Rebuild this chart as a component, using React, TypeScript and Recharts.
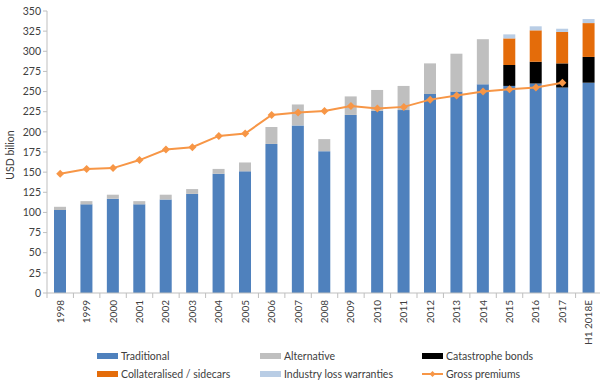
import { ComposedChart, Bar, Line, XAxis, YAxis } from 'recharts';

const years = ['1998', '1999', '2000', '2001', '2002', '2003', '2004', '2005', '2006', '2007', '2008', '2009', '2010', '2011', '2012', '2013', '2014', '2015', '2016', '2017', 'H1 2018E'];
const traditional = [103, 110, 117, 110, 116, 123, 148, 151, 185, 208, 176, 221, 226, 227, 247, 250, 259, 257, 260, 255, 261];
const alternative = [4, 4, 5, 4, 6, 6, 6, 11, 21, 26, 15, 23, 26, 30, 38, 47, 56, 0, 0, 0, 0];
const catBonds = [0, 0, 0, 0, 0, 0, 0, 0, 0, 0, 0, 0, 0, 0, 0, 0, 0, 26, 27, 30, 32];
const collateralised = [0, 0, 0, 0, 0, 0, 0, 0, 0, 0, 0, 0, 0, 0, 0, 0, 0, 33, 39, 39, 42];
const ilw = [0, 0, 0, 0, 0, 0, 0, 0, 0, 0, 0, 0, 0, 0, 0, 0, 0, 5, 5, 4, 5];
const grossPremiums = [148, 154, 155, 165, 178, 181, 195, 198, 221, 224, 226, 232, 229, 231, 240, 245, 250, 253, 255, 261, null];
const yTicks = [0, 25, 50, 75, 100, 125, 150, 175, 200, 225, 250, 275, 300, 325, 350];

const data = years.map((year, i) => ({
  year,
  traditional: traditional[i],
  alternative: alternative[i],
  catBonds: catBonds[i],
  collateralised: collateralised[i],
  ilw: ilw[i],
  grossPremiums: grossPremiums[i],
}));

const FONT = 'Lato, "Open Sans", sans-serif';
const TEXT = '#404040';
const AXIS = '#BFBFBF';
const LINE_ORANGE = '#F79646';

const XTick = (props: any) => {
  const { x, y, payload } = props;
  const half = 13.2;
  return (
    <g>
      <line x1={x - half} y1={y - 8} x2={x - half} y2={y - 3} stroke={AXIS} />
      <text
        x={0}
        y={0}
        transform={`translate(${x},${y - 1}) rotate(-90)`}
        textAnchor="end"
        dy="0.35em"
        fontSize={10}
        fontFamily={FONT}
        fill={TEXT}
      >
        {payload.value}
      </text>
    </g>
  );
};

const Diamond = (props: any) => {
  const { cx, cy } = props;
  if (cx == null || cy == null) return <g />;
  return <polygon points={`${cx},${cy - 4} ${cx + 4},${cy} ${cx},${cy + 4} ${cx - 4},${cy}`} fill={LINE_ORANGE} />;
};

const legendItems = [
  { label: 'Traditional', color: '#4F81BD', left: 97, top: 352 },
  { label: 'Alternative', color: '#BFBFBF', left: 260, top: 352 },
  { label: 'Catastrophe bonds', color: '#000000', left: 422, top: 352 },
  { label: 'Collateralised / sidecars', color: '#E46C0A', left: 97, top: 370 },
  { label: 'Industry loss warranties', color: '#B9CDE5', left: 260, top: 370 },
];

export default function App() {
  return (
    <div style={{ position: 'absolute', left: 0, top: 0, width: 600, height: 383, overflow: 'hidden', background: '#fff' }}>
      <ComposedChart width={610} height={383} data={data} margin={{ top: 11, right: 8, bottom: 30, left: 0 }} barSize={12}>
        <XAxis
          dataKey="year"
          interval={0}
          height={60}
          tick={<XTick />}
          tickLine={false}
          axisLine={{ stroke: AXIS }}
        />
        <YAxis
          width={47}
          domain={[0, 350]}
          ticks={yTicks}
          interval={0}
          tick={{ fontSize: 10.5, fontFamily: FONT, fill: TEXT }}
          tickLine={{ stroke: AXIS }}
          tickSize={4}
          axisLine={{ stroke: AXIS }}
        />
        <Bar dataKey="traditional" stackId="a" fill="#4F81BD" isAnimationActive={false} />
        <Bar dataKey="alternative" stackId="a" fill="#BFBFBF" isAnimationActive={false} />
        <Bar dataKey="catBonds" stackId="a" fill="#000000" isAnimationActive={false} />
        <Bar dataKey="collateralised" stackId="a" fill="#E46C0A" isAnimationActive={false} />
        <Bar dataKey="ilw" stackId="a" fill="#B9CDE5" isAnimationActive={false} />
        <Line
          dataKey="grossPremiums"
          stroke={LINE_ORANGE}
          strokeWidth={2}
          dot={<Diamond />}
          activeDot={false}
          connectNulls={false}
          isAnimationActive={false}
        />
      </ComposedChart>
      <div
        style={{
          position: 'absolute',
          left: 10,
          top: 155,
          transform: 'translate(-50%, -50%) rotate(-90deg)',
          fontFamily: FONT,
          fontSize: 10.5,
          color: TEXT,
          whiteSpace: 'nowrap',
        }}
      >
        USD bilion
      </div>
      {legendItems.map((item) => (
        <div
          key={item.label}
          style={{ position: 'absolute', left: item.left, top: item.top, display: 'flex', alignItems: 'center', fontFamily: FONT, fontSize: 10.5, color: TEXT, whiteSpace: 'nowrap', height: 7 }}
        >
          <span style={{ display: 'inline-block', width: 21, height: 6, background: item.color, marginRight: 3 }} />
          {item.label}
        </div>
      ))}
      <div style={{ position: 'absolute', left: 422, top: 370, display: 'flex', alignItems: 'center', fontFamily: FONT, fontSize: 10.5, color: TEXT, whiteSpace: 'nowrap', height: 7 }}>
        <svg width={21} height={8} style={{ marginRight: 3 }}>
          <line x1={0} y1={4} x2={21} y2={4} stroke={LINE_ORANGE} strokeWidth={2} />
          <polygon points="10.5,1 13.5,4 10.5,7 7.5,4" fill={LINE_ORANGE} />
        </svg>
        Gross premiums
      </div>
    </div>
  );
}
